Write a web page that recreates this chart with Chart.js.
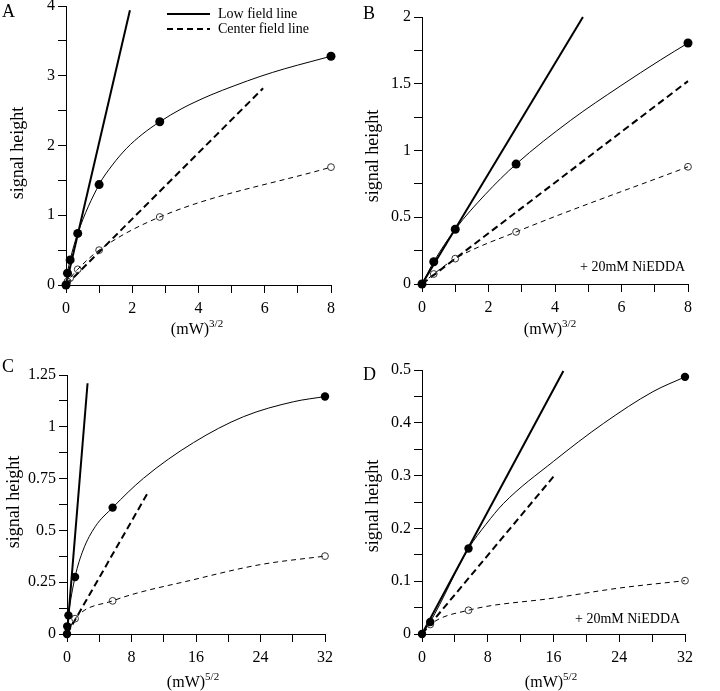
<!DOCTYPE html>
<html><head><meta charset="utf-8">
<script src="https://cdn.jsdelivr.net/npm/chart.js@4.4.1/dist/chart.umd.min.js"></script>
<style>
body{margin:0;background:#fff;}
#fig{position:relative;width:720px;height:691px;overflow:hidden;font-family:"Liberation Serif","Times New Roman",serif;color:#000;background:#fff;}
canvas{position:absolute;}
.t{position:absolute;white-space:nowrap;line-height:1;}
.yt{transform:translate(-50%,-50%) rotate(-90deg);font-size:18px;}
.xt{transform:translate(-50%,-50%);font-size:16px;}
.xt sup{font-size:11px;vertical-align:0;position:relative;top:-7px;}
.let{font-size:18px;transform:translateY(-50%);}
.ann{font-size:14px;transform:translateY(-50%);}
.leg{font-size:14px;transform:translateY(-50%);}
</style></head><body>
<div id="fig">
<canvas id="cA" width="360" height="345" style="left:0;top:0"></canvas>
<canvas id="cB" width="360" height="345" style="left:360px;top:0"></canvas>
<canvas id="cC" width="360" height="346" style="left:0;top:345px"></canvas>
<canvas id="cD" width="360" height="346" style="left:360px;top:345px"></canvas>

<div class="t let" style="left:2px;top:11px">A</div>
<div class="t let" style="left:363px;top:13px">B</div>
<div class="t let" style="left:2px;top:366px">C</div>
<div class="t let" style="left:363px;top:374px">D</div>

<div class="t yt" style="left:17px;top:153px">signal height</div>
<div class="t yt" style="left:372px;top:156px">signal height</div>
<div class="t yt" style="left:13px;top:502px">signal height</div>
<div class="t yt" style="left:372px;top:506px">signal height</div>

<div class="t xt" style="left:197px;top:329px">(mW)<sup>3/2</sup></div>
<div class="t xt" style="left:550px;top:329px">(mW)<sup>3/2</sup></div>
<div class="t xt" style="left:193px;top:682px">(mW)<sup>5/2</sup></div>
<div class="t xt" style="left:551px;top:682px">(mW)<sup>5/2</sup></div>

<div class="t ann" style="left:580px;top:267px">+ 20mM NiEDDA</div>
<div class="t ann" style="left:575px;top:619px">+ 20mM NiEDDA</div>

<svg style="position:absolute;left:0;top:0" width="360" height="40">
  <line x1="167" y1="14" x2="210" y2="14" stroke="#000" stroke-width="2"/>
  <line x1="167" y1="29" x2="210" y2="29" stroke="#000" stroke-width="2" stroke-dasharray="6,4"/>
</svg>
<div class="t leg" style="left:218px;top:14px">Low field line</div>
<div class="t leg" style="left:218px;top:29px">Center field line</div>
</div>
<script>
// ---------- Panel A ----------
const xA = [0, 0.044, 0.125, 0.354, 1, 2.83, 8];
const lowA = [0, 0.17, 0.36, 0.74, 1.44, 2.34, 3.28];
const cenA = [0, 0.05, 0.10, 0.225, 0.50, 0.975, 1.69];
const lowCurveAx = [0, 0.044, 0.125, 0.354, 1, 1.4, 1.83, 2.3, 2.83, 3.5, 4.35, 5.1, 5.86, 6.6, 7.37, 8];
const lowCurveAy = [0, 0.17, 0.36, 0.74, 1.44, 1.72, 1.96, 2.16, 2.34, 2.53, 2.72, 2.86, 2.99, 3.10, 3.20, 3.28];
const cenCurveAx = [0, 0.044, 0.125, 0.354, 1, 2.83, 8];
const cenCurveAy = [0, 0.05, 0.10, 0.225, 0.50, 0.975, 1.69];
const lowLineAx = [0, 1.93];
const lowLineAy = [0, 3.94];
const cenLineAx = [0, 5.95];
const cenLineAy = [0, 2.82];
const xTicksA = [0, 1, 2, 3, 4, 5, 6, 7, 8];
const xLabelsA = ['0', '', '2', '', '4', '', '6', '', '8'];
const yTicksA = [0, 0.5, 1, 1.5, 2, 2.5, 3, 3.5, 4];
const yLabelsA = ['0', '', '1', '', '2', '', '3', '', '4'];

// ---------- Panel B ----------
const xB = [0, 0.354, 1, 2.83, 8];
const lowB = [0, 0.167, 0.41, 0.898, 1.805];
const cenB = [0, 0.075, 0.19, 0.39, 0.878];
const lowCurveBx = [0, 0.354, 1, 1.9, 2.83, 4.46, 5.96, 7.17, 8];
const lowCurveBy = [0, 0.167, 0.41, 0.67, 0.898, 1.224, 1.482, 1.678, 1.805];
const cenCurveBx = [0, 0.354, 1, 2.83, 8];
const cenCurveBy = [0, 0.075, 0.19, 0.39, 0.878];
const lowLineBx = [0, 4.84];
const lowLineBy = [0, 2.0];
const cenLineBx = [0, 8];
const cenLineBy = [0, 1.52];
const xTicksB = [0, 1, 2, 3, 4, 5, 6, 7, 8];
const xLabelsB = ['0', '', '2', '', '4', '', '6', '', '8'];
const yTicksB = [0, 0.25, 0.5, 0.75, 1, 1.25, 1.5, 1.75, 2];
const yLabelsB = ['0', '', '0.5', '', '1', '', '1.5', '', '2'];

// ---------- Panel C ----------
const xC = [0, 0.031, 0.177, 1, 5.66, 32];
const lowC = [0, 0.037, 0.09, 0.275, 0.61, 1.146];
const xCopen = [0, 1, 5.66, 32];
const cenC = [0, 0.074, 0.16, 0.376];
const lowCurveCx = [0, 0.031, 0.177, 1, 2, 3.5, 5.66, 9.5, 15.7, 21.9, 28.1, 32];
const lowCurveCy = [0, 0.037, 0.09, 0.275, 0.405, 0.518, 0.61, 0.752, 0.924, 1.049, 1.121, 1.146];
const cenCurveCx = [0, 1, 5.66, 16, 24, 32];
const cenCurveCy = [0, 0.074, 0.16, 0.265, 0.335, 0.376];
const lowLineCx = [0, 2.55];
const lowLineCy = [0, 1.21];
const cenLineCx = [0, 10];
const cenLineCy = [0, 0.68];
const xTicksC = [0, 4, 8, 12, 16, 20, 24, 28, 32];
const xLabelsC = ['0', '', '8', '', '16', '', '24', '', '32'];
const yTicksC = [0, 0.125, 0.25, 0.375, 0.5, 0.625, 0.75, 0.875, 1, 1.125, 1.25];
const yLabelsC = ['0', '', '0.25', '', '0.5', '', '0.75', '', '1', '', '1.25'];

// ---------- Panel D ----------
const xD = [0, 1, 5.66, 32];
const lowD = [0, 0.0227, 0.162, 0.487];
const cenD = [0, 0.018, 0.045, 0.101];
const lowCurveDx = [0, 1, 5.66, 7.8, 9.9, 16, 22.1, 28.1, 32];
const lowCurveDy = [0, 0.0227, 0.162, 0.208, 0.247, 0.327, 0.399, 0.459, 0.487];
const cenCurveDx = [0, 1, 5.66, 16, 24, 32];
const cenCurveDy = [0, 0.018, 0.045, 0.068, 0.087, 0.101];
const lowLineDx = [0, 17.2];
const lowLineDy = [0, 0.498];
const cenLineDx = [0, 16.1];
const cenLineDy = [0, 0.30];
const xTicksD = [0, 4, 8, 12, 16, 20, 24, 28, 32];
const xLabelsD = ['0', '', '8', '', '16', '', '24', '', '32'];
const yTicksD = [0, 0.05, 0.1, 0.15, 0.2, 0.25, 0.3, 0.35, 0.4, 0.45, 0.5];
const yLabelsD = ['0', '', '0.1', '', '0.2', '', '0.3', '', '0.4', '', '0.5'];

function pts(xs, ys) { return xs.map((x, i) => ({ x: x, y: ys[i] })); }
function labelFor(ticks, labels) {
  return function (v) {
    for (let i = 0; i < ticks.length; i++) if (Math.abs(ticks[i] - v) < 1e-9) return labels[i];
    return '';
  };
}
const FONT = { family: 'Liberation Serif', size: 16 };

function makeChart(id, g, ax, d) {
  const W = g.w, H = g.h;
  const axisCommon = {
    type: 'linear',
    grid: { display: true, drawOnChartArea: false, drawTicks: true, tickLength: 8, tickColor: '#000', tickWidth: 1 },
    border: { display: true, color: '#000', width: 1 }
  };
  new Chart(document.getElementById(id), {
    type: 'line',
    data: {
      datasets: [
        { data: pts(d.mx, d.low), showLine: false, pointRadius: d.r, pointBackgroundColor: '#000', pointBorderColor: '#000', pointBorderWidth: 0, clip: false, order: 0 },
        { data: pts(d.mxo, d.cen), showLine: false, pointRadius: 3.4, pointBackgroundColor: 'rgba(255,255,255,0)', pointBorderColor: '#333', pointBorderWidth: 1, clip: false, order: 0 },
        { data: pts(d.llx, d.lly), borderColor: '#000', borderWidth: 2, pointRadius: 0, order: 1, clip: false },
        { data: pts(d.clx, d.cly), borderColor: '#000', borderWidth: 2, borderDash: [7, 4], pointRadius: 0, order: 1, clip: false },
        { data: pts(d.lcx, d.lcy), borderColor: '#000', borderWidth: 1, pointRadius: 0, cubicInterpolationMode: 'monotone', order: 2, clip: false },
        { data: pts(d.ccx, d.ccy), borderColor: '#000', borderWidth: 1, borderDash: [5, 4], pointRadius: 0, cubicInterpolationMode: 'monotone', order: 2, clip: false }
      ]
    },
    options: {
      responsive: false, animation: false, devicePixelRatio: 1,
      layout: { padding: { top: g.top, right: W - g.right, bottom: 0, left: 0 } },
      plugins: { legend: { display: false }, tooltip: { enabled: false } },
      events: [],
      scales: {
        x: Object.assign({}, axisCommon, {
          min: 0, max: ax.xt[ax.xt.length - 1],
          afterBuildTicks: s => { s.ticks = ax.xt.map(v => ({ value: v })); },
          afterFit: s => { s.height = H - g.bottom; s.paddingLeft = 0; s.paddingRight = 0; },
          ticks: { autoSkip: false, maxRotation: 0, padding: 6, color: '#000', font: FONT, callback: labelFor(ax.xt, ax.xl) }
        }),
        y: Object.assign({}, axisCommon, {
          min: 0, max: ax.yt[ax.yt.length - 1],
          afterBuildTicks: s => { s.ticks = ax.yt.map(v => ({ value: v })); },
          afterFit: s => { s.width = g.left; s.paddingTop = 0; s.paddingBottom = 0; },
          ticks: { autoSkip: false, padding: 3, color: '#000', font: FONT, callback: labelFor(ax.yt, ax.yl) }
        })
      }
    }
  });
}

makeChart('cA', { w: 360, h: 345, left: 66, right: 331, top: 6, bottom: 285 },
  { xt: xTicksA, xl: xLabelsA, yt: yTicksA, yl: yLabelsA },
  { mx: xA, low: lowA, mxo: xA, cen: cenA, r: 4.5, llx: lowLineAx, lly: lowLineAy, clx: cenLineAx, cly: cenLineAy,
    lcx: lowCurveAx, lcy: lowCurveAy, ccx: cenCurveAx, ccy: cenCurveAy });
makeChart('cB', { w: 360, h: 345, left: 62, right: 328, top: 17, bottom: 284 },
  { xt: xTicksB, xl: xLabelsB, yt: yTicksB, yl: yLabelsB },
  { mx: xB, low: lowB, mxo: xB, cen: cenB, r: 4.5, llx: lowLineBx, lly: lowLineBy, clx: cenLineBx, cly: cenLineBy,
    lcx: lowCurveBx, lcy: lowCurveBy, ccx: cenCurveBx, ccy: cenCurveBy });
makeChart('cC', { w: 360, h: 346, left: 67, right: 325, top: 30, bottom: 289 },
  { xt: xTicksC, xl: xLabelsC, yt: yTicksC, yl: yLabelsC },
  { mx: xC, low: lowC, mxo: xCopen, cen: cenC, r: 4.2, llx: lowLineCx, lly: lowLineCy, clx: cenLineCx, cly: cenLineCy,
    lcx: lowCurveCx, lcy: lowCurveCy, ccx: cenCurveCx, ccy: cenCurveCy });
makeChart('cD', { w: 360, h: 346, left: 62, right: 325, top: 25, bottom: 289 },
  { xt: xTicksD, xl: xLabelsD, yt: yTicksD, yl: yLabelsD },
  { mx: xD, low: lowD, mxo: xD, cen: cenD, r: 4.2, llx: lowLineDx, lly: lowLineDy, clx: cenLineDx, cly: cenLineDy,
    lcx: lowCurveDx, lcy: lowCurveDy, ccx: cenCurveDx, ccy: cenCurveDy });
</script>
</body></html>
